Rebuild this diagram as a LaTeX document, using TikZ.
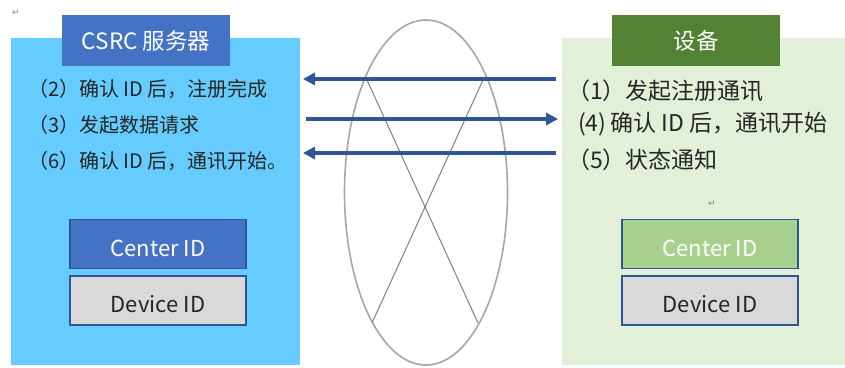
\documentclass[tikz,border=0pt]{standalone}
\usepackage{fontspec}
\setmainfont{Noto Sans CJK SC}
\newfontfamily\symf{DejaVu Sans}
\usetikzlibrary{arrows.meta,shapes.geometric}
\definecolor{panelL}{HTML}{66CCFF}
\definecolor{panelR}{HTML}{E2F0D9}
\definecolor{titleL}{HTML}{4472C4}
\definecolor{titleR}{HTML}{548235}
\definecolor{idgreen}{HTML}{A9D18E}
\definecolor{idgray}{HTML}{D9D9D9}
\definecolor{navy}{HTML}{2F5597}
\definecolor{ringgray}{HTML}{A6A6A6}
\newcommand{\lowertext}[1]{\raisebox{-4pt}[\height][\depth]{#1}}
\begin{document}
\begin{tikzpicture}[x=1pt,y=-1pt,
  panel/.style={rectangle,inner sep=0pt,draw=none},
  titlebox/.style={rectangle,inner sep=0pt,draw=none,minimum width=168pt,minimum height=51pt,text=white,font=\fontsize{22.5}{26}\selectfont},
  idbox/.style={rectangle,inner sep=0pt,draw=navy,line width=1.8pt,minimum width=176pt,minimum height=49pt,font=\fontsize{22}{26}\selectfont},
  ltext/.style={anchor=west,inner sep=0pt,font=\fontsize{20}{24}\selectfont,text=black!85},
  rtext/.style={anchor=west,inner sep=0pt,font=\fontsize{23}{27}\selectfont,text=black!85},
  arr/.style={draw=navy,line width=3.8pt,-{Triangle[length=12pt,width=12pt]}},
  cross/.style={draw=gray,line width=1pt},
  pmark/.style={inner sep=0pt,font=\symf\fontsize{9}{10}\selectfont,text=gray}
]
\useasboundingbox (0,0) rectangle (845,367);
\fill[white] (0,0) rectangle (845,367);
% panels
\node[panel,fill=panelL,minimum width=289pt,minimum height=327pt] (lp) at (155.5,201.5) {};
\node[panel,fill=panelR,minimum width=283pt,minimum height=327pt] (rp) at (703.5,201.5) {};
% titles
\node[titlebox,fill=titleL] (lt) at (146,40.5) {CSRC 服务器};
\node[titlebox,fill=titleR] (rt) at (696,40.5) {设备};
% left texts
\node[ltext] (l2) at (28,89) {（2）确认 ID 后，注册完成};
\node[ltext] (l3) at (28,125) {（3）发起数据请求};
\node[ltext] (l6) at (28,161) {（6）确认 ID 后，通讯开始。};
% right texts
\node[rtext] (r1) at (567,91) {（1）发起注册通讯};
\node[rtext] (r4) at (578,124) {(4)\hspace{4pt}确认 ID 后，通讯开始};
\node[rtext] (r5) at (567,160) {（5）状态通知};
% ID boxes
\node[idbox,fill=titleL,text=white] (lc) at (158,244) {\lowertext{Center ID}};
\node[idbox,fill=idgray,text=black!85] (ld) at (158,300.5) {\lowertext{Device ID}};
\node[idbox,fill=idgreen,text=white] (rc) at (710,244) {\lowertext{Center ID}};
\node[idbox,fill=idgray,text=black!85] (rd) at (710,300.5) {\lowertext{Device ID}};
% ring with cross
\node[ellipse,draw=ringgray,line width=1.6pt,minimum width=163pt,minimum height=345pt,inner sep=0pt] (ring) at (426,192.5) {};
\coordinate (xa) at (367,80);
\coordinate (xb) at (478,323);
\coordinate (xc) at (483,80);
\coordinate (xd) at (372,323);
\draw[cross] (xa) -- (xb);
\draw[cross] (xc) -- (xd);
% arrows
\coordinate (a1s) at (556,79);
\coordinate (a1e) at (303,79);
\coordinate (a2s) at (306,119);
\coordinate (a2e) at (558,119);
\coordinate (a3s) at (556,153);
\coordinate (a3e) at (303,153);
\draw[arr] (a1s) -- (a1e);
\draw[arr] (a2s) -- (a2e);
\draw[arr] (a3s) -- (a3e);
% paragraph marks
\node[pmark] (pm1) at (16,13) {↵};
\node[pmark] (pm2) at (712,204) {↵};
\end{tikzpicture}
\end{document}
